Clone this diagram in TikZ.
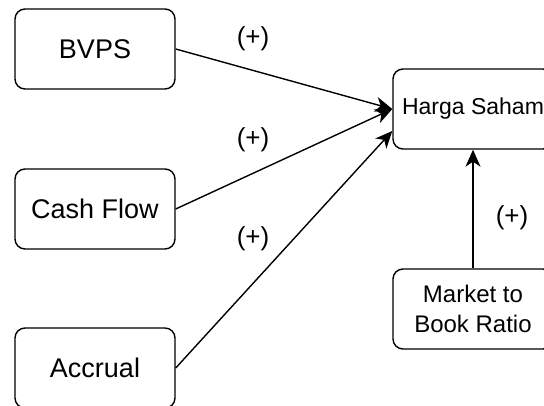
\documentclass[tikz,border=0pt]{standalone}
\usepackage{fontspec}
\setmainfont{Liberation Sans}
\usetikzlibrary{arrows.meta,calc}
\tikzset{box/.style = {draw, line width=1.4pt, rounded corners=10pt, minimum width=160pt, minimum height=80pt, font=\fontsize{27}{32}\selectfont},
         rbox/.style = {box, align=center, font=\fontsize{24}{30}\selectfont},
         ->/.style = {line width=1.4pt, -{Stealth[length=17pt, width=15pt, inset=5pt]}},
         sign/.style = {font=\fontsize{26}{30}\selectfont}}

\begin{document}
\begin{tikzpicture}[x=1pt, y=-1pt]
\useasboundingbox (0,0) rectangle (544,405);
\clip (0,0) rectangle (544,405);
\node [box] (bvps) at (95,49) {BVPS};
\node [box] (cash) at (95,209) {Cash Flow};
\node [box] (accrual) at (95,368) {Accrual};
\node [rbox, font=\fontsize{23}{28}\selectfont] (harga) at (473,109) {Harga Saham};
\node [rbox] (market) at (473,309) {Market to\\Book Ratio};
\draw [->] (bvps.east) -- (harga.west) node [sign] (s1) at (253,39) {(+)};
\draw [->] (cash.east) -- (harga.west) node [sign] (s2) at (253,140) {(+)};
\draw [->] (accrual.east) -- ($(harga.west)+(0,22)$) node [sign] (s3) at (253,239) {(+)};
\draw [->] (market.north) -- (harga.south) node [sign] (s4) at (512,218) {(+)};
\end{tikzpicture}
\end{document}
